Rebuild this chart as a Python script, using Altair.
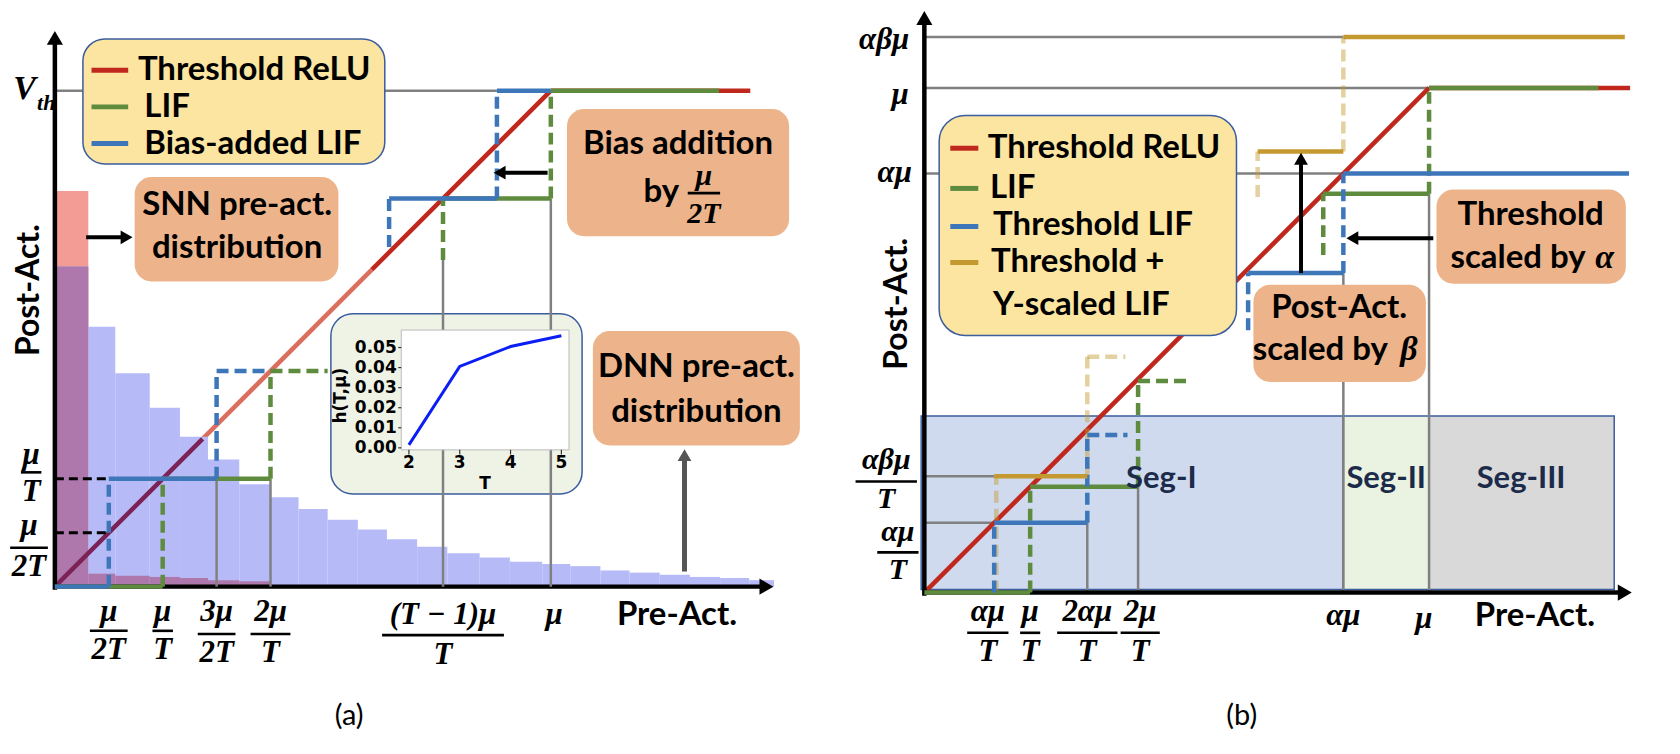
import altair as alt
import pandas as pd

SANS = "Lato"
SERIF = "Liberation Serif"
RED = "#C0281E"; RED_LIGHT = "#DA6F5E"; RED_DARK = "#7C2257"
GREEN = "#5F8B3F"; BLUE = "#3E76BA"; GOLD = "#C4992F"; GRAY = "#808080"
PINK = "#F29C95"; HIST_BLUE = "#B6BBF7"; PURPLE = "#AE78AC"
ORANGE = "#EDB48B"; YELLOW = "#FBE5A1"; FRAME = "#3B5C9E"; INSET_BG = "#EEF3E6"
SEG_FILL = ["#CFDAEE", "#EAF2E1", "#D9D9D9"]; SEG_TEXT = "#1C2B4A"

W, H = 832, 730

# ======================= panel (a) values (units of mu/T) =======================
T_A = 4.6  # position of mu on x and of V_th on y
dnn_edges = [0, 0.31, 0.56, 0.88, 1.16, 1.42, 1.71, 2.0, 2.26, 2.53, 2.81, 3.08, 3.36,
             3.64, 3.94, 4.22, 4.52, 4.78, 5.06, 5.33, 5.61, 5.89, 6.17, 6.44, 6.67]
dnn_heights = [2.97, 2.41, 1.98, 1.66, 1.39, 1.18, 0.95, 0.83, 0.72, 0.62, 0.53, 0.44,
               0.37, 0.31, 0.27, 0.23, 0.21, 0.19, 0.15, 0.13, 0.11, 0.09, 0.08, 0.06]
snn_heights = [3.67, 0.12, 0.10, 0.09, 0.08, 0.06, 0.05]

inset_T = [2, 3, 4, 5]
inset_h = [0.0015, 0.0406, 0.0505, 0.0559]
inset_yticks = [0.00, 0.01, 0.02, 0.03, 0.04, 0.05]

a_red_dark = [(0, 0, 1.37, 1.37)]
a_red_light = [(1.37, 1.37, 2.94, 2.94)]
a_red = [(2.94, 2.94, T_A, T_A), (T_A, T_A, T_A + 1.85, T_A)]
a_green_solid = [(0, 0, 1, 0), (1, 1, 2, 1), (T_A - 1, T_A - 1, T_A, T_A - 1), (T_A, T_A, T_A + 1.56, T_A)]
a_green_dash = [(1, 0, 1, 1), (2, 1, 2, 2), (2, 2, 2.53, 2), (T_A - 1, T_A - 1.57, T_A - 1, T_A - 1), (T_A, T_A - 1, T_A, T_A)]
a_blue_solid = [(0, 0, 0.5, 0), (0.5, 1, 1.5, 1), (T_A - 1.5, T_A - 1, T_A - 0.5, T_A - 1), (T_A - 0.5, T_A, T_A, T_A)]
a_blue_dash = [(0.5, 0, 0.5, 1), (1.5, 1, 1.5, 2), (1.5, 2, 2, 2), (T_A - 1.5, T_A - 1.45, T_A - 1.5, T_A - 1), (T_A - 0.5, T_A - 1, T_A - 0.5, T_A)]
a_gray_h = [(0, T_A, T_A - 0.5, T_A)]
a_gray_v = [(1.5, 0, 1.5, 1), (2, 0, 2, 1), (T_A - 1, 0, T_A - 1, T_A - 1.57), (T_A, 0, T_A, T_A - 1)]
a_black_dash = [(0, 1, 0.5, 1), (0, 0.5, 0.5, 0.5)]

a_xtick_pos = [0.5, 1, 1.5, 2, T_A - 1]
a_xtick_num = ["μ", "μ", "3μ", "2μ", "(T − 1)μ"]
a_xtick_den = ["2T", "T", "2T", "T", "T"]
a_xtick_w = [0.35, 0.19, 0.35, 0.37, 1.13]
a_ytick_pos = [1, 0.5]
a_ytick_num = ["μ", "μ"]
a_ytick_den = ["T", "2T"]
a_ytick_w = [0.19, 0.35]

# ======================= panel (b) values (units of mu/T) =======================
A1, M1, A2, M2, AM, MU, AB1, ABM = 0.66, 1.0, 1.54, 2.02, 3.96, 4.77, 1.10, 5.25
b_red = [(0, 0, MU, MU), (MU, MU, 6.67, MU)]
b_green_solid = [(0, 0, M1, 0), (M1, M1, M2, M1), (MU - M1, MU - M1, MU, MU - M1), (MU, MU, 6.37, MU)]
b_green_dash = [(M1, 0, M1, M1), (M2, M1, M2, 2.0), (M2, 2.0, 2.5, 2.0), (MU - M1, 3.19, MU - M1, MU - M1), (MU, MU - M1, MU, MU)]
b_blue_solid = [(A1, A1, A2, A1), (3.06, 3.02, AM, 3.02), (AM, AM, 6.66, AM)]
b_blue_dash = [(A1, 0, A1, A1), (A2, A1, A2, 1.49), (A2, 1.49, 1.92, 1.49), (3.06, 2.48, 3.06, 3.02), (AM, 3.02, AM, AM)]
b_gold_solid = [(A1, AB1, A2, AB1), (3.15, 4.17, AM, 4.17), (AM, ABM, 6.62, ABM)]
b_gold_dash = [(A1 + 0.02, 0, A1 + 0.02, AB1), (A2, AB1, A2, 2.23), (A2, 2.23, 1.9, 2.23), (3.15, 3.74, 3.15, 4.17), (AM, 4.17, AM, ABM)]
b_gray = [(0, ABM, AM, ABM), (0, MU, MU, MU), (0, AM, AM, AM), (0, AB1, A1, AB1), (0, A1, A1, A1),
          (A2, 0, A2, A1), (M2, 0, M2, M1), (AM, 0, AM, 3.02), (MU, 0, MU, MU - M1)]
seg_names = ["Seg-I", "Seg-II", "Seg-III"]
seg_edges = [-0.03, AM, MU, 6.52]

b_xtick_pos = [0.60, 1.0, 1.54, 2.04]
b_xtick_num = ["αμ", "μ", "2αμ", "2μ"]
b_xtick_den = ["T", "T", "T", "T"]
b_xtick_w = [0.39, 0.19, 0.57, 0.37]


class Panel:
    def __init__(self, xd, yd, xr=None, yr=None):
        kx = dict(domain=xd, nice=False, zero=False)
        ky = dict(domain=yd, nice=False, zero=False)
        if xr:
            kx["range"] = xr
        if yr:
            ky["range"] = yr
        self.sx = alt.Scale(**kx)
        self.sy = alt.Scale(**ky)
        self.layers = []

    def X(self, f):
        return alt.X(f + ":Q", scale=self.sx, axis=None)

    def Y(self, f):
        return alt.Y(f + ":Q", scale=self.sy, axis=None)

    def segs(self, rows, color, width, dash=None, opacity=1.0):
        df = pd.DataFrame(rows, columns=["x", "y", "x2", "y2"])
        kw = dict(color=color, strokeWidth=width, strokeCap="butt", opacity=opacity)
        if dash:
            kw["strokeDash"] = dash
        self.layers.append(alt.Chart(df).mark_rule(**kw).encode(
            x=self.X("x"), y=self.Y("y"), x2=alt.X2("x2"), y2=alt.Y2("y2")))

    def rects(self, rows, fill, stroke=None, sw=0, radius=0, opacity=1.0):
        df = pd.DataFrame(rows, columns=["x", "x2", "y", "y2"])
        kw = dict(fill=fill, cornerRadius=radius, opacity=opacity, strokeWidth=sw)
        if stroke:
            kw["stroke"] = stroke
        self.layers.append(alt.Chart(df).mark_rect(**kw).encode(
            x=self.X("x"), x2=alt.X2("x2"), y=self.Y("y"), y2=alt.Y2("y2")))

    def texts(self, rows, size, color="black", font=SANS, weight="bold", style="normal",
              align="center", baseline="middle", angle=0):
        df = pd.DataFrame(rows, columns=["x", "y", "t"])
        self.layers.append(alt.Chart(df).mark_text(
            font=font, fontSize=size, fontWeight=weight, fontStyle=style, color=color,
            align=align, baseline=baseline, angle=angle).encode(
            x=self.X("x"), y=self.Y("y"), text="t:N"))

    def heads(self, rows, shape, color="black", size=200):
        df = pd.DataFrame(rows, columns=["x", "y"])
        self.layers.append(alt.Chart(df).mark_point(
            shape=shape, filled=True, size=size, color=color, opacity=1).encode(
            x=self.X("x"), y=self.Y("y")))

    def fracs(self, xs, yn, yb, yd, nums, dens, ws, size=31):
        df = pd.DataFrame({"x": xs, "yn": yn, "yb": yb, "yd": yd, "num": nums, "den": dens, "w": ws})
        df["xl"] = df.x - df.w / 2
        df["xr"] = df.x + df.w / 2
        base = alt.Chart(df)
        tk = dict(font=SERIF, fontSize=size, fontWeight="bold", fontStyle="italic",
                  color="black", align="center", baseline="middle")
        self.layers += [
            base.mark_text(**tk).encode(x=self.X("x"), y=self.Y("yn"), text="num:N"),
            base.mark_text(**tk).encode(x=self.X("x"), y=self.Y("yd"), text="den:N"),
            base.mark_rule(color="black", strokeWidth=2.6).encode(
                x=self.X("xl"), x2=alt.X2("xr"), y=self.Y("yb")),
        ]


# ------------------------------- panel (a) -------------------------------
A = Panel([-0.407, 7.296], [-1.398, 5.361])
A.segs(a_gray_h, GRAY, 2.5)
A.segs(a_red_light, RED_LIGHT, 4.5)
A.segs(a_red, RED, 4.5)
A.rects([(dnn_edges[0], dnn_edges[1], 0, snn_heights[0])], PINK)
A.rects([(dnn_edges[i], dnn_edges[i + 1], 0, h) for i, h in enumerate(dnn_heights)], HIST_BLUE)
A.rects([(dnn_edges[i], dnn_edges[i + 1], 0, min(h, dnn_heights[i])) for i, h in enumerate(snn_heights)], PURPLE)
A.segs(a_red_dark, RED_DARK, 4.5)
A.segs([(0, -0.03, 0, 5.09), (0, 0, 6.60, 0)], "black", 4.5)
A.heads([(0, 5.09)], "triangle-up", size=260)
A.heads([(6.60, 0)], "triangle-right", size=260)
# boxes
A.rects([(0.26, 3.06, 3.92, 5.08)], YELLOW, FRAME, 1.5, 22)
A.rects([(0.74, 2.63, 2.83, 3.80), (4.75, 6.81, 3.25, 4.43), (4.99, 6.91, 1.31, 2.37)], ORANGE, radius=17)
A.rects([(2.56, 4.89, 0.86, 2.53)], INSET_BG, FRAME, 1.5, 22)
A.segs(a_gray_v, GRAY, 2.5)
A.segs(a_black_dash, "black", 3, dash=[9, 5])
A.segs(a_green_solid, GREEN, 4.5)
A.segs(a_green_dash, GREEN, 4.5, dash=[12, 6])
A.segs(a_blue_solid, BLUE, 4.5)
A.segs(a_blue_dash, BLUE, 4.5, dash=[12, 6])
# legend samples
A.segs([(0.34, 4.79, 0.68, 4.79)], RED, 5)
A.segs([(0.34, 4.45, 0.68, 4.45)], GREEN, 5)
A.segs([(0.34, 4.11, 0.68, 4.11)], BLUE, 5)
# arrows
A.segs([(0.29, 3.24, 0.66, 3.24), (4.57, 3.84, 4.14, 3.84)], "black", 4)
A.heads([(0.665, 3.24)], "triangle-right", size=190)
A.heads([(4.125, 3.84)], "triangle-left", size=190)
A.segs([(5.84, 0.14, 5.84, 1.20)], "#555555", 5)
A.heads([(5.84, 1.22)], "triangle-up", color="#555555", size=190)
# texts
A.texts([(0.77, 4.79, "Threshold ReLU"), (0.83, 4.45, "LIF"), (0.83, 4.11, "Bias-added LIF")], 33, align="left")
A.texts([(1.69, 3.54, "SNN pre-act."), (1.69, 3.14, "distribution"),
         (5.78, 4.11, "Bias addition"),
         (5.95, 2.04, "DNN pre-act."), (5.95, 1.62, "distribution")], 33)
A.texts([(5.79, 3.66, "by")], 33, align="right")
A.fracs([6.02], [3.81], [3.65], [3.46], ["μ"], ["2T"], [0.30], size=30)
A.texts([(5.77, -0.26, "Pre-Act.")], 33)
A.texts([(-0.24, 2.75, "Post-Act.")], 32, angle=270)
A.texts([(2.73, -1.20, "(a)")], 29, weight="normal")
A.fracs(a_xtick_pos, [-0.24, -0.24, -0.24, -0.24, -0.26], [-0.41, -0.41, -0.44, -0.44, -0.45],
        [-0.59, -0.59, -0.62, -0.62, -0.63], a_xtick_num, a_xtick_den, a_xtick_w)
A.texts([(T_A + 0.03, -0.26, "μ")], 31, font=SERIF, style="italic")
A.fracs([-0.22, -0.24], [1.22, 0.56], [1.06, 0.36], [0.88, 0.185], a_ytick_num, a_ytick_den, a_ytick_w)
A.texts([(-0.28, 4.62, "V")], 34, font=SERIF, style="italic")
A.texts([(-0.08, 4.49, "th")], 22, font=SERIF, style="italic")

# inset with its own scales
I = Panel([1.85, 5.15], [-0.001, 0.0587], xr=[391, 559], yr=[442, 322])
I.rects([(1.85, 5.15, -0.001, 0.0587)], "white", "#BBBBBB", 1)
I.layers.append(alt.Chart(pd.DataFrame({"T": inset_T, "h": inset_h})).mark_line(
    color="#0A1EF5", strokeWidth=3).encode(x=I.X("T"), y=I.Y("h")))
I.segs([(1.79, v, 1.85, v) for v in inset_yticks], "#333333", 1.2)
I.segs([(t, -0.001, t, -0.0033) for t in inset_T], "#333333", 1.2)
I.texts([(1.76, v, f"{v:.2f}") for v in inset_yticks], 17, font="DejaVu Sans", align="right")
I.texts([(t, -0.0078, str(t)) for t in inset_T], 17, font="DejaVu Sans")
I.texts([(3.5, -0.0178, "T")], 17, font="DejaVu Sans")
I.texts([(0.66, 0.026, "h(T,μ)")], 17, font="DejaVu Sans", angle=270)

panel_a = alt.layer(alt.layer(*A.layers), alt.layer(*I.layers)).resolve_scale(
    x="independent", y="independent").properties(width=W, height=H)

# ------------------------------- panel (b) -------------------------------
B = Panel([-0.783, 7.066], [-1.368, 5.519])
for i in range(3):
    B.rects([(seg_edges[i], seg_edges[i + 1], 0.03, 1.67)], SEG_FILL[i], FRAME, 1.5)
B.segs(b_gray, GRAY, 2.5)
B.segs(b_red, RED, 4.5)
B.segs([(0, -0.03, 0, 5.43), (0, 0, 6.62, 0)], "black", 4.5)
B.heads([(0, 5.43)], "triangle-up", size=260)
B.heads([(6.62, 0)], "triangle-right", size=260)
B.segs(b_gold_dash, GOLD, 4.5, dash=[12, 6], opacity=0.45)
B.segs(b_green_solid, GREEN, 4.5)
B.segs(b_green_dash, GREEN, 4.5, dash=[12, 6])
B.segs(b_blue_solid, BLUE, 4.5)
B.segs(b_blue_dash, BLUE, 4.5, dash=[12, 6])
B.segs(b_gold_solid, GOLD, 4.5)
B.rects([(0.14, 2.95, 2.43, 4.51)], YELLOW, FRAME, 1.5, 26)
B.rects([(4.84, 6.63, 2.92, 3.81), (3.11, 4.74, 1.99, 2.91)], ORANGE, radius=17)
B.segs([(0.245, 4.20, 0.51, 4.20)], RED, 5)
B.segs([(0.245, 3.82, 0.51, 3.82)], GREEN, 5)
B.segs([(0.245, 3.46, 0.51, 3.46)], BLUE, 5)
B.segs([(0.245, 3.12, 0.51, 3.12)], GOLD, 5)
B.segs([(3.56, 3.02, 3.56, 4.08), (4.81, 3.35, 4.06, 3.35)], "black", 4)
B.heads([(3.56, 4.10)], "triangle-up", size=190)
B.heads([(4.045, 3.35)], "triangle-left", size=190)
B.texts([(0.60, 4.20, "Threshold ReLU"), (0.62, 3.82, "LIF"), (0.65, 3.47, "Threshold LIF"),
         (0.63, 3.12, "Threshold +"), (0.65, 2.72, "Y-scaled LIF")], 33, align="left")
B.texts([(5.73, 3.57, "Threshold"), (3.92, 2.69, "Post-Act.")], 33)
B.texts([(6.25, 3.16, "scaled by"), (4.38, 2.29, "scaled by")], 33, align="right")
B.texts([(6.43, 3.16, "α"), (4.58, 2.29, "β")], 34, font=SERIF, style="italic")
B.texts([(2.24, 1.07, seg_names[0]), (4.365, 1.07, seg_names[1]), (5.64, 1.07, seg_names[2])], 31, color=SEG_TEXT)
B.texts([(5.77, -0.22, "Pre-Act.")], 33)
B.texts([(-0.26, 2.73, "Post-Act.")], 32, angle=270)
B.texts([(3.00, -1.17, "(b)")], 29, weight="normal")
B.fracs(b_xtick_pos, [-0.18] * 4, [-0.38] * 4, [-0.56] * 4, b_xtick_num, b_xtick_den, b_xtick_w)
B.texts([(AM, -0.22, "αμ"), (MU - 0.05, -0.25, "μ")], 31, font=SERIF, style="italic")
B.fracs([-0.36, -0.25], [1.25, 0.57], [1.05, 0.38], [0.88, 0.21], ["αβμ", "αμ"], ["T", "T"], [0.58, 0.39], size=30)
B.texts([(-0.38, 5.22, "αβμ"), (-0.23, 4.70, "μ"), (-0.28, 3.97, "αμ")], 31, font=SERIF, style="italic")

panel_b = alt.layer(*B.layers).properties(width=W, height=H)

chart = alt.hconcat(panel_a, panel_b, spacing=0).properties(
    padding=0, background="white").configure_view(strokeWidth=0)

chart.save("out.html", embed_options={"renderer": "svg", "actions": False})
